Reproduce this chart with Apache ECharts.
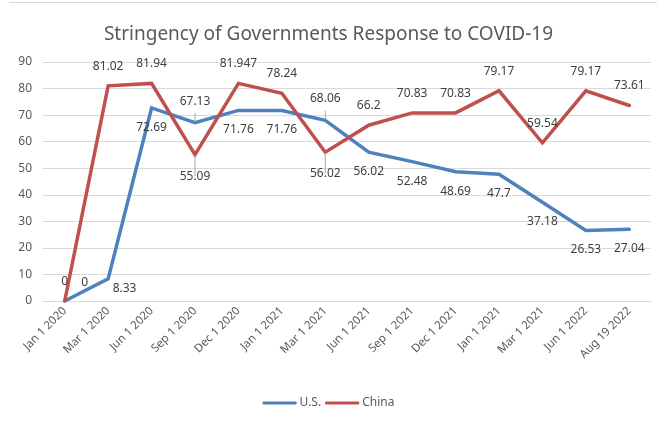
<!DOCTYPE html>
<html>
<head>
<meta charset="utf-8">
<script src="https://cdn.jsdelivr.net/npm/echarts@6/dist/echarts.min.js"></script>
<style>
  html, body { margin: 0; padding: 0; background: #fff; }
  #chart { width: 657px; height: 421px; }
</style>
</head>
<body>
<div id="chart"></div>
<script>
// Sample dates (labels as published, including the repeated 2021 entries)
const dates = [
  'Jan 1 2020', 'Mar 1 2020', 'Jun 1 2020', 'Sep 1 2020', 'Dec 1 2020',
  'Jan 1 2021', 'Mar 1 2021', 'Jun 1 2021', 'Sep 1 2021', 'Dec 1 2021',
  'Jan 1 2021', 'Mar 1 2021', 'Jun 1 2022', 'Aug 19 2022'
];

// Stringency index values
const usValues = [0, 8.33, 72.69, 67.13, 71.76, 71.76, 68.06, 56.02, 52.48, 48.69, 47.7, 37.18, 26.53, 27.04];
const chinaValues = [0, 81.02, 81.94, 55.09, 81.947, 78.24, 56.02, 66.2, 70.83, 70.83, 79.17, 59.54, 79.17, 73.61];

const yTicks = { min: 0, max: 90, interval: 10 };

const US_COLOR = '#4F81BD';
const CN_COLOR = '#C0504D';
const LABEL_COLOR = '#404040';
const AXIS_TEXT = '#595959';
const FONT = 'Noto Sans';

// Default label side per series; a few points flip sides and get a guide line
const usAbove = { 3: true, 6: true };
const cnBelow = { 3: true, 6: true };

function usData() {
  return usValues.map((v, i) => {
    if (i === 0) {
      return { value: v, label: { position: 'top', offset: [20, 1] } };
    }
    if (i === 1) {
      return { value: v, label: { position: 'right', distance: 4, offset: [0, 10] } };
    }
    if (usAbove[i]) {
      return { value: v, label: { position: 'top', distance: 15 }, labelLine: { show: true } };
    }
    return v;
  });
}

function cnData() {
  return chinaValues.map((v, i) => {
    if (cnBelow[i]) {
      return { value: v, label: { position: 'bottom', distance: 15 }, labelLine: { show: true } };
    }
    return v;
  });
}

const labelBase = {
  show: true,
  color: LABEL_COLOR,
  fontFamily: FONT,
  fontSize: 12,
  distance: 13
};

const chart = echarts.init(document.getElementById('chart'), null, { renderer: 'canvas' });

chart.setOption({
  animation: false,
  backgroundColor: '#ffffff',
  textStyle: { fontFamily: FONT },
  title: {
    text: 'Stringency of Governments Response to COVID-19',
    left: 'center',
    top: 20,
    textStyle: { color: AXIS_TEXT, fontFamily: FONT, fontSize: 19, fontWeight: 'normal' }
  },
  legend: {
    bottom: 7,
    left: 'center',
    itemWidth: 34,
    itemHeight: 3,
    itemGap: 4,
    icon: 'roundRect',
    textStyle: { color: AXIS_TEXT, fontFamily: FONT, fontSize: 12, padding: [0, 0, 0, -2] },
    data: ['U.S.', 'China']
  },
  grid: { left: 43, right: 6, top: 62, bottom: 120, containLabel: false },
  xAxis: {
    type: 'category',
    data: dates,
    boundaryGap: true,
    axisLine: { lineStyle: { color: '#d9d9d9' } },
    axisTick: { show: false },
    axisLabel: {
      interval: 0,
      rotate: 45,
      margin: 8,
      color: AXIS_TEXT,
      fontFamily: FONT,
      fontSize: 11.5
    }
  },
  yAxis: {
    type: 'value',
    min: yTicks.min,
    max: yTicks.max,
    interval: yTicks.interval,
    axisLine: { show: false },
    axisTick: { show: false },
    axisLabel: { color: AXIS_TEXT, fontFamily: FONT, fontSize: 12, margin: 11 },
    splitLine: { lineStyle: { color: '#d9d9d9', width: 1 } }
  },
  graphic: [{
    type: 'line',
    shape: { x1: 9, y1: 2.5, x2: 657, y2: 2.5 },
    style: { stroke: '#d9d9d9', lineWidth: 1 },
    silent: true
  }],
  series: [
    {
      name: 'U.S.',
      type: 'line',
      data: usData(),
      symbol: 'circle',
      symbolSize: 1,
      showSymbol: true,
      itemStyle: { color: US_COLOR },
      lineStyle: { color: US_COLOR, width: 3.5, cap: 'round', join: 'miter' },
      label: Object.assign({}, labelBase, { position: 'bottom' }),
      labelLine: { show: false, lineStyle: { color: '#a6a6a6', width: 1 } },
      z: 2
    },
    {
      name: 'China',
      type: 'line',
      data: cnData(),
      symbol: 'circle',
      symbolSize: 1,
      showSymbol: true,
      itemStyle: { color: CN_COLOR },
      lineStyle: { color: CN_COLOR, width: 3.5, cap: 'round', join: 'miter' },
      label: Object.assign({}, labelBase, { position: 'top' }),
      labelLine: { show: false, lineStyle: { color: '#a6a6a6', width: 1 } },
      z: 3
    }
  ]
});
</script>
</body>
</html>
